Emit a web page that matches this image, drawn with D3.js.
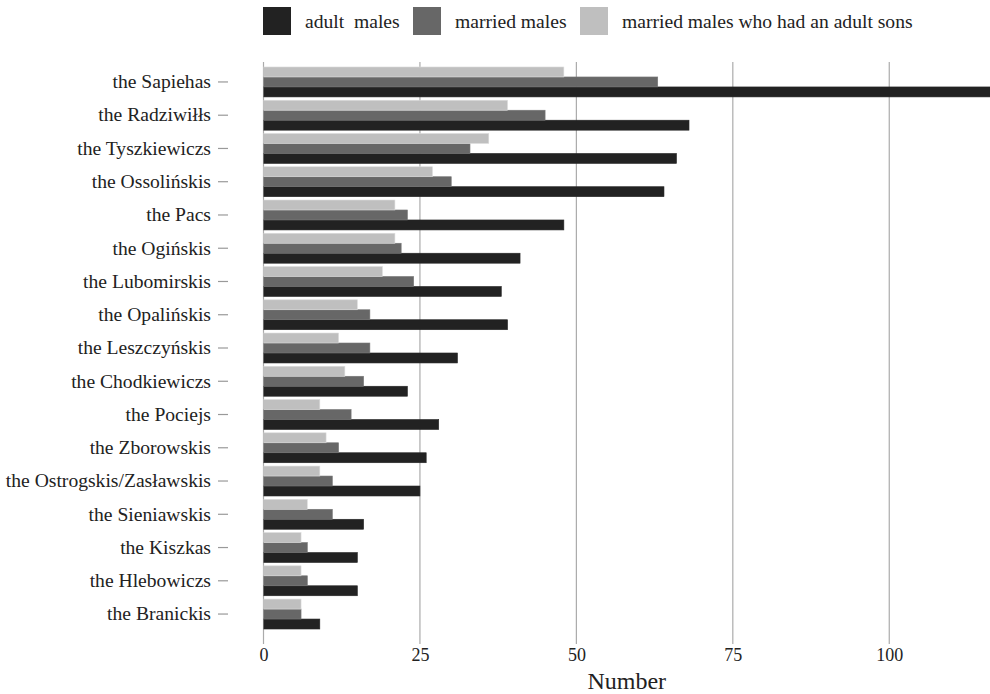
<!DOCTYPE html>
<html><head><meta charset="utf-8">
<script src="https://cdn.jsdelivr.net/npm/d3@7"></script>
<style>body{margin:0;background:#fff}svg{display:block}svg text{font-family:"Liberation Serif","DejaVu Serif",serif !important}</style>
</head><body>
<script>
const families = ["the Sapiehas","the Radziwiłłs","the Tyszkiewiczs","the Ossolińskis","the Pacs","the Ogińskis","the Lubomirskis","the Opalińskis","the Leszczyńskis","the Chodkiewiczs","the Pociejs","the Zborowskis","the Ostrogskis/Zasławskis","the Sieniawskis","the Kiszkas","the Hlebowiczs","the Branickis"];
const adultMales   = [120,68,66,64,48,41,38,39,31,23,28,26,25,16,15,15,9];
const marriedMales = [63,45,33,30,23,22,24,17,17,16,14,12,11,11,7,7,6];
const marriedWithAdultSons = [48,39,36,27,21,21,19,15,12,13,9,10,9,7,6,6,6];
const seriesNames = ["adult  males","married males","married males who had an adult sons"];
const seriesColors = ["#222222","#676767","#bfbfbf"];
const xTicks = [0,25,50,75,100];

const W = 990, H = 694;
const svg = d3.select("body").append("svg").attr("width", W).attr("height", H);

const panel = {left: 263.5, right: 990, top: 62, bottom: 634};
const x = d3.scaleLinear().domain([0, 116.1]).range([panel.left, panel.right]);
const y = d3.scaleBand().domain(families).range([panel.top, panel.bottom]).paddingInner(0.1).paddingOuter(0.15);
const order = [2,1,0];
const sub = d3.scaleBand().domain(order).range([0, y.bandwidth()]);
const values = [adultMales, marriedMales, marriedWithAdultSons];

svg.append("defs").append("clipPath").attr("id","clip")
  .append("rect").attr("x", panel.left).attr("y", panel.top).attr("width", panel.right-panel.left).attr("height", panel.bottom-panel.top);

svg.append("g").selectAll("line").data(xTicks).join("line")
  .attr("x1", d => x(d)).attr("x2", d => x(d))
  .attr("y1", panel.top).attr("y2", panel.bottom + 10)
  .attr("stroke", "#ababab").attr("stroke-width", 1.2);

const g = svg.append("g").attr("clip-path","url(#clip)");
values.forEach((vals, si) => {
  g.append("g").selectAll("rect").data(families).join("rect")
    .attr("x", x(0))
    .attr("y", d => y(d) + sub(si))
    .attr("width", (d,i) => x(vals[i]) - x(0))
    .attr("height", sub.bandwidth())
    .attr("fill", seriesColors[si])
    .attr("stroke", d3.color(seriesColors[si]).brighter(0.4))
    .attr("stroke-width", 0.6);
});

const xAxis = d3.axisBottom(x).tickValues(xTicks).tickSize(0).tickPadding(0).tickFormat(d3.format("d"));
const xg = svg.append("g").attr("transform", `translate(0,${panel.bottom + 14})`).call(xAxis);
xg.select(".domain").remove();
xg.selectAll("text").attr("font-size", 18).attr("fill", "#222");

svg.append("text").attr("x", (panel.left + panel.right)/2).attr("y", 689)
  .attr("text-anchor","middle").attr("font-size", 24).attr("fill","#222").text("Number");

const yAxis = d3.axisLeft(y).tickSize(0).tickPadding(0);
const yg = svg.append("g").attr("transform", `translate(211,0)`).call(yAxis);
yg.select(".domain").remove();
yg.selectAll("text").attr("font-size", 19.6).attr("fill", "#222").attr("dy","0.32em");
svg.append("g").selectAll("line").data(families).join("line")
  .attr("x1", 218).attr("x2", 228)
  .attr("y1", d => y(d) + y.bandwidth()/2).attr("y2", d => y(d) + y.bandwidth()/2)
  .attr("stroke", "#999").attr("stroke-width", 1.2);

const legendX = [263, 413, 580];
const lg = svg.append("g");
seriesNames.forEach((name, i) => {
  lg.append("rect").attr("x", legendX[i]).attr("y", 7).attr("width", 28).attr("height", 28).attr("fill", seriesColors[i]);
  lg.append("text").attr("x", legendX[i] + 42).attr("y", 27.5).attr("font-size", 19.6).attr("fill","#222")
    .style("white-space","pre").text(name);
});
</script>
</body></html>
